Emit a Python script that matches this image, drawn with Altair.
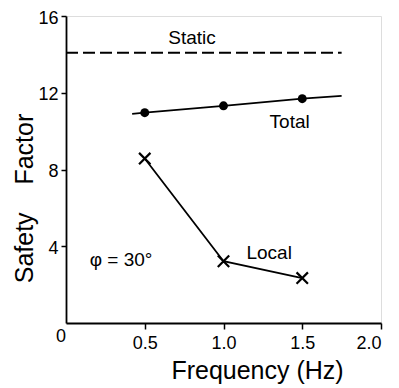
import altair as alt
import pandas as pd

FONT = "Liberation Sans"
NB = "\u00a0"

freq = [0.5, 1.0, 1.5]
total = [10.96, 11.32, 11.69]
local = [8.57, 3.22, 2.34]
total_line_x = [0.42, 0.5, 1.0, 1.5, 1.75]
total_line_y = [10.9, 10.96, 11.32, 11.69, 11.84]
static_x = [0.0, 1.75]
static_y = [14.08, 14.08]

labels = ["Static", "Total", "Local", "\u03c6 = 30\u00b0"]
label_x = [0.80, 1.42, 1.29, 0.35]
label_y = [14.85, 10.47, 3.65, 3.28]

x_ticks = [0.5, 1.0, 1.5, 2.0]
y_ticks = [4, 8, 12, 16]

pts = pd.DataFrame({"f": freq, "total": total, "local": local})
tl = pd.DataFrame({"f": total_line_x, "v": total_line_y})
st = pd.DataFrame({"f": static_x, "v": static_y})
lab = pd.DataFrame({"f": label_x, "v": label_y, "t": labels})
zero = pd.DataFrame({"f": [0.0], "v": [0.0], "t": ["0"]})

xs = alt.Scale(domain=[0, 2], nice=False)
ys = alt.Scale(domain=[0, 16], nice=False)

xax = alt.Axis(values=x_ticks, format=".1f", title="Frequency (Hz)", grid=False,
               labelFont=FONT, labelFontSize=18, labelColor="black", labelPadding=5,
               titleFont=FONT, titleFontSize=25, titleFontWeight="normal", titleColor="black",
               titleX=191, titleY=55, titleBaseline="alphabetic",
               tickColor="black", domainColor="black",
               tickSize=6, domainWidth=1.8, tickWidth=1.5)
yax = alt.Axis(values=y_ticks, title="Safety" + NB * 4 + "Factor", grid=False,
               labelFont=FONT, labelFontSize=18, labelColor="black", labelPadding=3,
               labelOffset=2,
               titleFont=FONT, titleFontSize=25, titleFontWeight="normal", titleColor="black",
               titleX=-34, titleY=182, titleBaseline="alphabetic",
               tickColor="black", domainColor="black",
               tickSize=5, domainWidth=1.8, tickWidth=1.5)

base_x = alt.X("f:Q", scale=xs, axis=xax)
base_y = alt.Y("v:Q", scale=ys, axis=yax)

static = alt.Chart(st).mark_line(color="black", strokeWidth=2, strokeDash=[12, 5]).encode(x=base_x, y=base_y)
tline = alt.Chart(tl).mark_line(color="black", strokeWidth=1.8).encode(x="f:Q", y="v:Q")
tpts = alt.Chart(pts).mark_point(filled=True, color="black", size=80, shape="circle", opacity=1).encode(
    x="f:Q", y=alt.Y("total:Q"))
lline = alt.Chart(pts).mark_line(color="black", strokeWidth=1.8).encode(x="f:Q", y="local:Q")
lpts = alt.Chart(pts).mark_point(shape="M-1,-1L1,1M1,-1L-1,1", filled=False, color="black",
                                 strokeWidth=2.2, size=130, opacity=1).encode(x="f:Q", y="local:Q")
texts = alt.Chart(lab).mark_text(font=FONT, fontSize=19, color="black").encode(
    x="f:Q", y="v:Q", text="t:N")
ztext = alt.Chart(zero).mark_text(font=FONT, fontSize=18, color="black", dx=-5, dy=14).encode(
    x="f:Q", y="v:Q", text="t:N")

chart = alt.layer(static, tline, tpts, lline, lpts, texts, ztext).properties(
    width=315, height=307,
    autosize=alt.AutoSizeParams(type="none"),
    padding={"left": 58, "top": 8, "right": 10, "bottom": 64},
).configure_view(stroke=None).configure(background="white")

chart.save("out.html", embed_options={"renderer": "svg", "actions": False})
